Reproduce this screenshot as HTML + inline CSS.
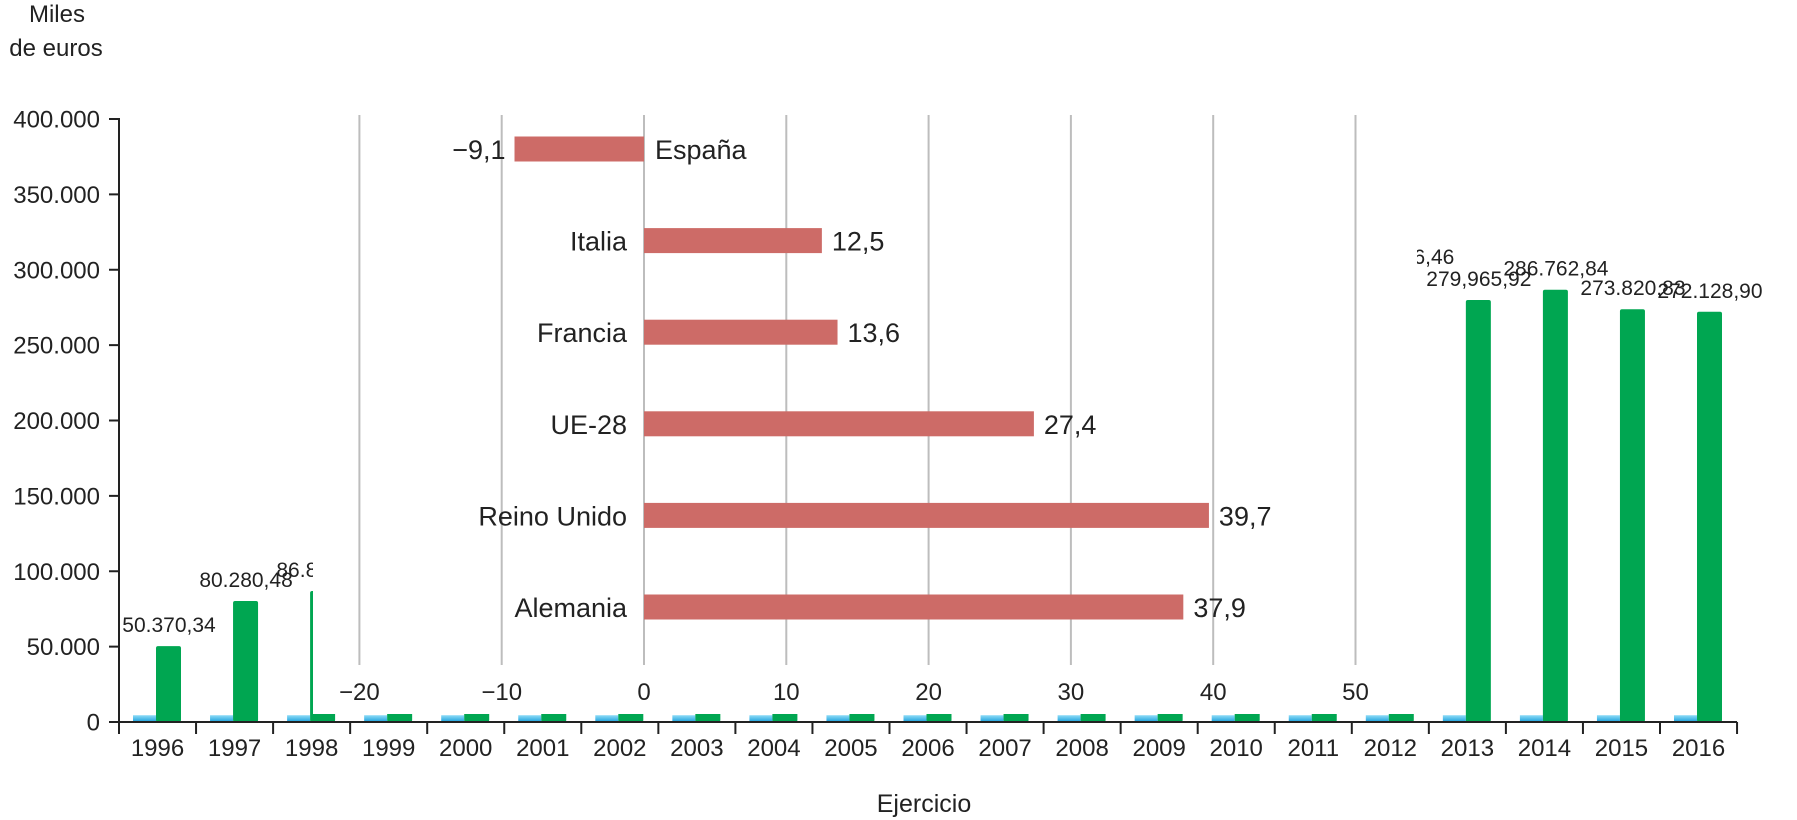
<!DOCTYPE html>
<html><head><meta charset="utf-8"><style>
html,body{margin:0;padding:0;background:#fff;}
svg{display:block;font-family:"Liberation Sans",Arial,sans-serif;}
</style></head><body>
<svg id="chart" width="1797" height="820" viewBox="0 0 1797 820"></svg>
<script>
const years = ['1996','1997','1998','1999','2000','2001','2002','2003','2004','2005','2006','2007','2008','2009','2010','2011','2012','2013','2014','2015','2016'];
const greenValues = [50370.34,80280.48,86868,120000,140000,160000,180000,200000,210000,220000,230000,240000,250000,260000,270000,280000,294546.46,279965.92,286762.84,273820.83,272128.90];
const greenLabels = ['50.370,34','80.280,48','86.868,00','','','','','','','','','','','','','','294.546,46','279,965,92','286.762,84','273.820,83','272.128,90'];
const blueValues = [4500,4500,4500,4500,4500,4500,4500,4500,4500,4500,4500,4500,4500,4500,4500,4500,4500,4500,4500,4500,4500];
const yTicks = [0,50000,100000,150000,200000,250000,300000,350000,400000];
const yTickLabels = ['0','50.000','100.000','150.000','200.000','250.000','300.000','350.000','400.000'];
const countries = ['España','Italia','Francia','UE-28','Reino Unido','Alemania'];
const countryValues = [-9.1,12.5,13.6,27.4,39.7,37.9];
const countryLabels = ['\u22129,1','12,5','13,6','27,4','39,7','37,9'];
const hTicks = [-20,-10,0,10,20,30,40,50];
const hTickLabels = ['\u221220','\u221210','0','10','20','30','40','50'];

const NS='http://www.w3.org/2000/svg';
const svg=document.getElementById('chart');
function mk(tag,attrs,parent){const e=document.createElementNS(NS,tag);for(const k in attrs)e.setAttribute(k,attrs[k]);(parent||svg).appendChild(e);return e;}

const X0=119, STEP=77.05, Y0=722, YTOP=119;
const yScale=v=>Y0-(v/400000)*(Y0-YTOP);
const xCat=i=>X0+i*STEP;

const defs=mk('defs',{});
const lg=mk('linearGradient',{id:'bg',x1:0,y1:0,x2:0,y2:1},defs);
mk('stop',{offset:'0','stop-color':'#8fdcf7'},lg);
mk('stop',{offset:'1','stop-color':'#1aa0dc'},lg);

years.forEach((y,i)=>{
  const bx=xCat(i);
  const b=mk('rect',{x:bx+14,y:yScale(blueValues[i]),width:23,height:Y0-yScale(blueValues[i]),fill:'url(#bg)'});
  
  
  const g=mk('rect',{x:bx+37,y:yScale(greenValues[i]),width:25,height:Y0-yScale(greenValues[i]),fill:'#00a651',rx:2});
  
  
  if(greenLabels[i]){
    const t=mk('text',{x:bx+50,y:yScale(greenValues[i])-14,'font-size':21,'text-anchor':'middle',fill:'#222'});
    t.textContent=greenLabels[i];
    
    
  }
});

const panel=mk('rect',{x:313,y:0,width:1104,height:714,fill:'#fff'});



const ya=mk('line',{x1:X0,y1:YTOP-1,x2:X0,y2:Y0+2,stroke:'#222','stroke-width':2});


yTicks.forEach((v,i)=>{
  mk('line',{x1:X0-10,y1:yScale(v),x2:X0,y2:yScale(v),stroke:'#222','stroke-width':2});
  const t=mk('text',{x:100,y:yScale(v)+8.5,'font-size':24,'text-anchor':'end',fill:'#222'});
  t.textContent=yTickLabels[i];
  
  
});
const xa=mk('line',{x1:X0,y1:Y0,x2:xCat(years.length),y2:Y0,stroke:'#222','stroke-width':2});


for(let i=0;i<=years.length;i++){mk('line',{x1:xCat(i),y1:Y0,x2:xCat(i),y2:Y0+12,stroke:'#222','stroke-width':2});}
years.forEach((y,i)=>{
  const t=mk('text',{x:xCat(i)+STEP/2,y:756,'font-size':24,'text-anchor':'middle',fill:'#222'});
  t.textContent=y;
  
  
});

const yt1=mk('text',{x:57,y:22,'font-size':24,'text-anchor':'middle',fill:'#222'});yt1.textContent='Miles';


const yt2=mk('text',{x:56,y:56,'font-size':24,'text-anchor':'middle',fill:'#222'});yt2.textContent='de euros';


const xt=mk('text',{x:924,y:812,'font-size':25,'text-anchor':'middle',fill:'#222'});xt.textContent='Ejercicio';



const HX0=644, HSTEP=14.23;
const hScale=v=>HX0+v*HSTEP;
hTicks.forEach((v,i)=>{
  const l=mk('line',{x1:hScale(v),y1:115,x2:hScale(v),y2:665,stroke:'#bdbdbd','stroke-width':2});
  
  
  const t=mk('text',{x:hScale(v),y:700,'font-size':24,'text-anchor':'middle',fill:'#222'});
  t.textContent=hTickLabels[i];
  
  
});
countries.forEach((c,i)=>{
  const cy=149+i*91.6, v=countryValues[i];
  const x1=Math.min(hScale(0),hScale(v)), w=Math.abs(hScale(v)-hScale(0));
  const r=mk('rect',{x:x1,y:cy-12.5,width:w,height:25,fill:'#cd6b67'});
  
  
  const neg=v<0;
  const cl=mk('text',{x:neg?hScale(0)+11:hScale(0)-17,y:cy+10,'font-size':27,'text-anchor':neg?'start':'end',fill:'#222'});
  cl.textContent=c;
  
  
  const vl=mk('text',{x:neg?hScale(v)-9:hScale(v)+10,y:cy+10,'font-size':27,'text-anchor':neg?'end':'start',fill:'#222'});
  vl.textContent=countryLabels[i];
  
  
});
</script>
</body></html>
